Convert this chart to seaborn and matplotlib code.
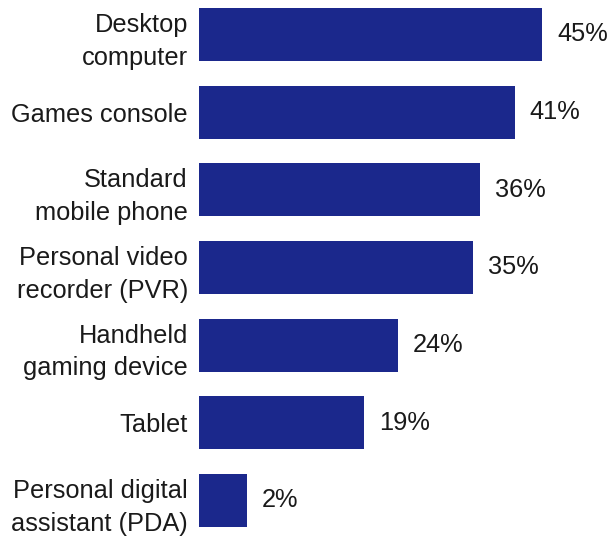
import matplotlib
matplotlib.use("Agg")
import matplotlib.pyplot as plt
import seaborn as sns

# Devices used, share of respondents (%)
categories = [
    "Desktop\ncomputer",
    "Games console",
    "Standard\nmobile phone",
    "Personal video\nrecorder (PVR)",
    "Handheld\ngaming device",
    "Tablet",
    "Personal digital\nassistant (PDA)",
]
values = [45, 41, 36, 35, 24, 19, 2]

BAR_COLOR = "#1B288C"
BASE = -5.0  # bars grow from the left edge of the plotting area

sns.set_theme(style="white")
plt.rcParams["font.family"] = ["Liberation Sans", "DejaVu Sans"]

W, H = 610, 545
fig = plt.figure(figsize=(W / 100, H / 100), dpi=100)
left_px, right_px = 199, 610
ax = fig.add_axes([left_px / W, 0.0, (right_px - left_px) / W, 1.0])

sns.barplot(x=values, y=categories, orient="h", color=BAR_COLOR,
            width=0.68, saturation=1, ax=ax)

for patch, v in zip(ax.patches, values):
    patch.set_x(BASE)
    patch.set_width(v - BASE)
    patch.set_edgecolor("none")

px_per_unit = 6.86
ax.set_xlim(BASE, BASE + (right_px - left_px) / px_per_unit)
ax.set_ylim(6.573, -0.444)

for i, v in enumerate(values):
    ax.text(v + 2.2, i, f"{v}%", va="center", ha="left",
            fontsize=18.3, color="#1a1a1a")

ax.set_xlabel("")
ax.set_ylabel("")
ax.set_xticks([])
ax.tick_params(axis="y", length=0, pad=8, labelsize=18.3, labelcolor="#1a1a1a")
for lbl in ax.get_yticklabels():
    lbl.set_linespacing(1.45)
for s in ax.spines.values():
    s.set_visible(False)

fig.savefig("out.png", dpi=100)
